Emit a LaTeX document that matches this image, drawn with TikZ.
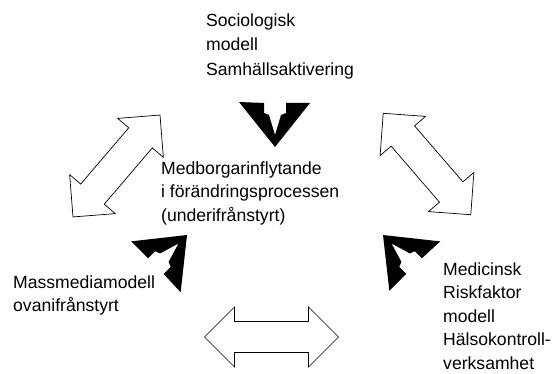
\documentclass[tikz,border=0pt]{standalone}
\usepackage{fontspec}
\setmainfont{Liberation Sans}

\tikzset{
    model text/.style={align=left, anchor=north west, inner sep=0pt,
        font=\fontsize{17.6}{23.5}\selectfont},
    % solid chevron, apex at the origin, arms upwards
    pics/chevron/.style={code={
        \fill[black] (0,0) -- (-36,45) -- (-11,44) -- (-11,34) -- (-6,32) -- (0,12)
            -- (6,32) -- (11,34) -- (11,44) -- (35,44) -- cycle;
    }},
    % open double arrow, centred, along the x axis
    pics/dblarrow/.style={code={
        \draw[line width=0.7pt, fill=white] (-67,0) -- (-37,30) -- (-37,15.5) -- (37,15.5)
            -- (37,30) -- (67,0) -- (37,-30) -- (37,-15.5) -- (-37,-15.5) -- (-37,-30) -- cycle;
    }}
}

\begin{document}
\begin{tikzpicture}[x=1pt, y=1pt]
    \useasboundingbox (0,0) rectangle (552,373);

    % Models
    \node[model text, font=\fontsize{17.6}{24.5}\selectfont] (socio) at (206,359.7)
        {Sociologisk\\modell\\Samhällsaktivering};
    \node[model text] (centre) at (161,211.7)
        {Medborgarinflytande\\i förändringsprocessen\\(underifrånstyrt)};
    \node[model text] (mass) at (13,97.7) {Massmediamodell\\ovanifrånstyrt};
    \node[model text] (medic) at (443,110.7)
        {Medicinsk\\Riskfaktor\\modell\\Hälsokontroll-\\verksamhet};

    % Black chevrons towards the centre
    \pic (vtop) at (275,226) {chevron};
    \pic[rotate=135] (vleft) at (187,138) {chevron};
    \pic[rotate=-135] (vright) at (383,138) {chevron};

    % Open double arrows between the models
    \pic[rotate=49.5] (aleft) at (116.5,207) {dblarrow};
    \pic[rotate=-49.2] (aright) at (427,209) {dblarrow};
    \pic (abottom) at (271.5,36) {dblarrow};
\end{tikzpicture}
\end{document}
